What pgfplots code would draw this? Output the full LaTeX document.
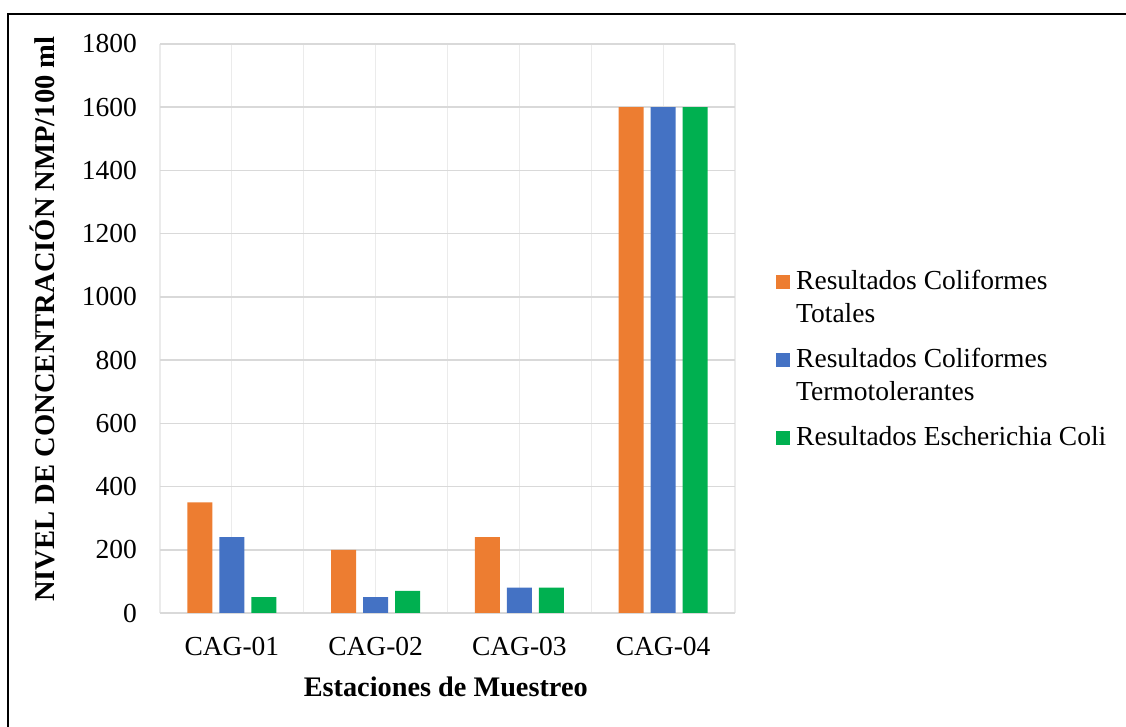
\documentclass[border=0pt]{standalone}
\usepackage{pgfplots}
\pgfplotsset{compat=1.18}
\usepackage{fontspec}
\setmainfont{Liberation Serif}
\definecolor{cOr}{HTML}{ED7D31}
\definecolor{cBl}{HTML}{4472C4}
\definecolor{cGr}{HTML}{00B050}
\definecolor{gridH}{HTML}{D9D9D9}
\definecolor{gridV}{HTML}{EBEBEB}
\newcommand{\sA}{\rule[-9.9bp]{0pt}{33bp}}
\newcommand{\sB}{\rule[-21.9bp]{0pt}{45bp}}
\begin{document}
\begin{tikzpicture}[x=1bp,y=1bp]
\useasboundingbox (0,0) rectangle (1126,727);
\draw[line width=2bp] (8,0) -- (8,713) -- (1126,713);
\begin{axis}[
  at={(160bp,114bp)}, anchor=south west,
  scale only axis, width=575bp, height=569bp,
  ybar, bar width=25bp,
  xmin=-0.5, xmax=3.5, ymin=0, ymax=1800,
  xtick={0,1,2,3},
  xticklabels={CAG-01,CAG-02,CAG-03,CAG-04},
  minor xtick={-0.5,0.5,1.5,2.5,3.5},
  ytick={0,200,...,1800},
  major tick length=0pt, minor tick length=0pt,
  xmajorgrids, xminorgrids, ymajorgrids,
  x grid style={gridV, line width=1.2bp},
  minor x grid style={gridV, line width=1.2bp},
  y grid style={gridH, line width=1.5bp},
  axis x line*=bottom, axis y line*=left,
  x axis line style={gridH, line width=1.5bp, -},
  y axis line style={draw=none},
  /pgf/number format/assume math mode=true,
  /pgf/number format/1000 sep={},
  tick label style={font=\fontsize{27.5bp}{33bp}\selectfont, inner sep=0pt},
  yticklabel style={xshift=-23bp},
  xticklabel style={yshift=-24bp},
  xlabel={Estaciones de Muestreo},
  xlabel style={at={(axis description cs:0.497,-0.130)}, anchor=center, font=\fontsize{28.3bp}{34bp}\selectfont\bfseries},
  ylabel={NIVEL DE CONCENTRACIÓN NMP/100 ml},
  ylabel style={at={(axis description cs:-0.205,0.5167)}, anchor=center, font=\fontsize{28.6bp}{34bp}\selectfont\bfseries},
  legend style={at={(axis description cs:1.0713,0.610)}, anchor=north west, draw=none, fill=none,
    font=\fontsize{27.5bp}{33bp}\selectfont, nodes={inner sep=0pt, text depth=},
    cells={anchor=base west, inner sep=0pt},
    row sep=0bp, inner sep=0pt},
  legend image code/.code={\fill[#1] (0bp,0bp) rectangle (14bp,14bp); \path (20bp,0bp);},
]
\addplot[fill=cOr, draw=none, bar shift=-32bp] coordinates {(0,350) (1,200) (2,240) (3,1600)};
\addlegendentry{\sA Resultados Coliformes}
\addlegendimage{empty legend}
\addlegendentry{\sB Totales}
\addplot[fill=cBl, draw=none, bar shift=0bp] coordinates {(0,240) (1,50) (2,80) (3,1600)};
\addlegendentry{\sA Resultados Coliformes}
\addlegendimage{empty legend}
\addlegendentry{\sB Termotolerantes}
\addplot[fill=cGr, draw=none, bar shift=32bp] coordinates {(0,50) (1,70) (2,80) (3,1600)};
\addlegendentry{\sA Resultados Escherichia Coli}
\end{axis}
\end{tikzpicture}
\end{document}
